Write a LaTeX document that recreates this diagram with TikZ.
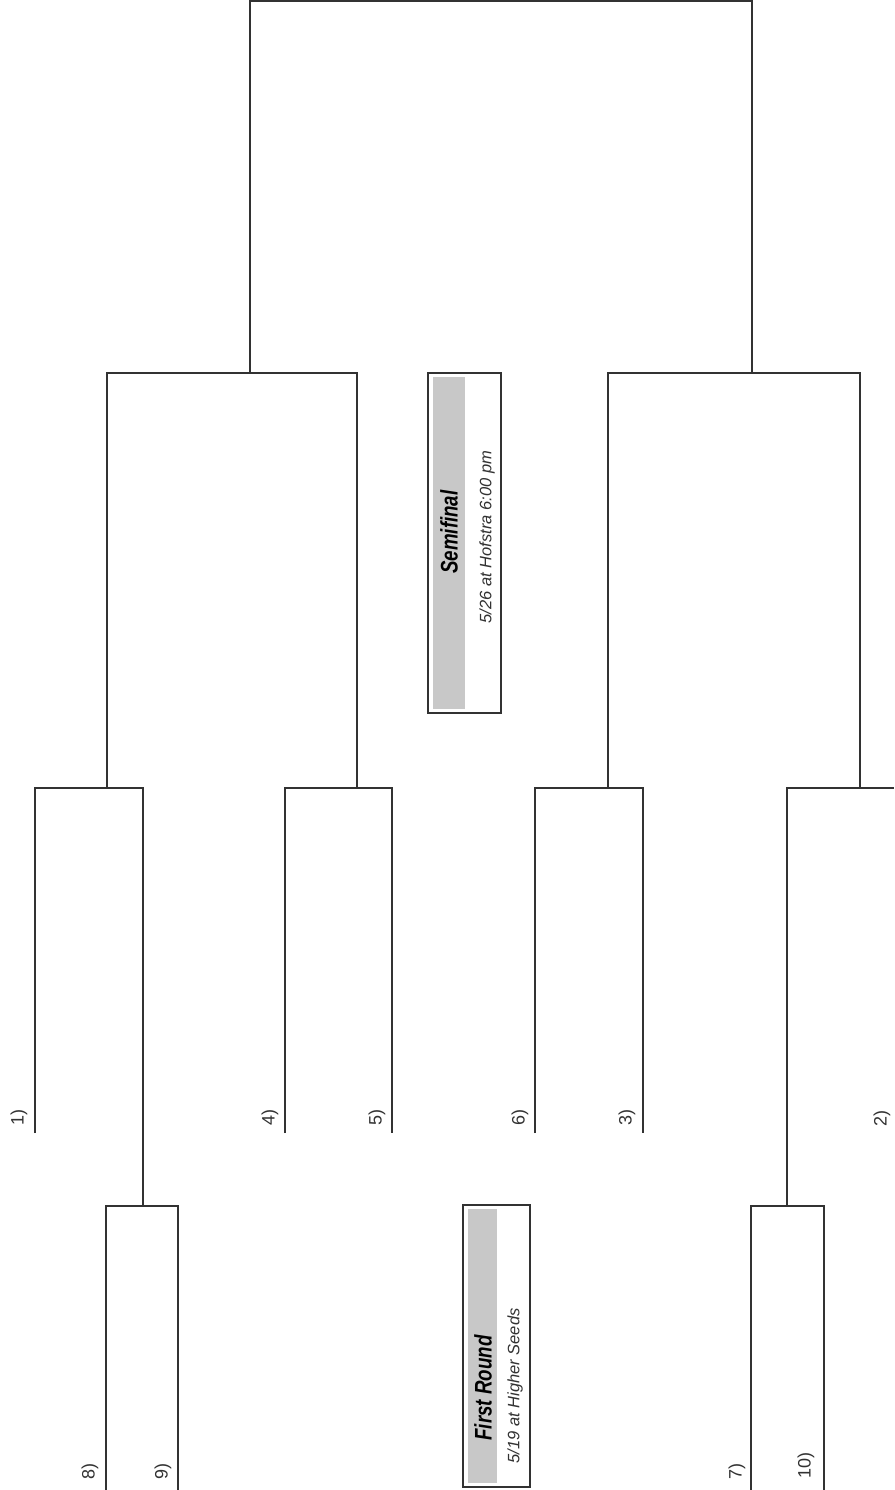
\documentclass[tikz,border=0pt]{standalone}
\usepackage{fontspec}
\setmainfont{Liberation Sans}
\definecolor{ln}{RGB}{50,50,50}
\definecolor{band}{RGB}{200,200,200}
\newcommand{\cond}[1]{\scalebox{0.78}[1]{#1}}
\begin{document}
\begin{tikzpicture}[x=1pt,y=-1pt,
  wire/.style={draw=ln,line width=2.4pt,line join=miter},
  seed/.style={rotate=90,font=\fontsize{18}{18}\selectfont,text=ln,inner sep=0pt},
  ttl/.style={rotate=90,font=\fontsize{24}{24}\selectfont\bfseries\itshape,inner sep=0pt,text=black},
  sub/.style={rotate=90,font=\fontsize{16.5}{16.5}\selectfont\itshape,inner sep=0pt,text=ln},
  boxframe/.style={draw=ln,line width=2.4pt,fill=white},
  bandfill/.style={fill=band}]
\useasboundingbox (0,0) rectangle (894,1490);
\fill[white] (0,0) rectangle (894,1490);

% final
\coordinate (FL) at (250,1);
\coordinate (FR) at (752,1);
\coordinate (SLj) at (250,373);
\coordinate (SRj) at (752,373);
% left semifinal
\coordinate (SLa) at (107,373);
\coordinate (SLb) at (357,373);
\coordinate (QAj) at (107,788);
\coordinate (QBj) at (357,788);
% right semifinal
\coordinate (SRa) at (608,373);
\coordinate (SRb) at (860,373);
\coordinate (QCj) at (608,788);
\coordinate (QDj) at (860,788);
% quarter A: 1) vs 8/9
\coordinate (A1t) at (35,788);
\coordinate (A1b) at (35,1133);
\coordinate (A2t) at (143,788);
\coordinate (A2b) at (143,1206);
\coordinate (P8t) at (106,1206);
\coordinate (P8b) at (106,1490);
\coordinate (P9t) at (178,1206);
\coordinate (P9b) at (178,1490);
% quarter B: 4) vs 5)
\coordinate (B4t) at (285,788);
\coordinate (B4b) at (285,1133);
\coordinate (B5t) at (392,788);
\coordinate (B5b) at (392,1133);
% quarter C: 6) vs 3)
\coordinate (C6t) at (535,788);
\coordinate (C6b) at (535,1133);
\coordinate (C3t) at (643,788);
\coordinate (C3b) at (643,1133);
% quarter D: 7/10 vs 2)
\coordinate (D1t) at (787,788);
\coordinate (D1b) at (787,1206);
\coordinate (D2t) at (894,788);
\coordinate (P7t) at (751,1206);
\coordinate (P7b) at (751,1490);
\coordinate (P10t) at (824,1206);
\coordinate (P10b) at (824,1490);

\draw[wire] (SLj) -- (FL) -- (FR) -- (SRj);
\draw[wire] (QAj) -- (SLa) -- (SLb) -- (QBj);
\draw[wire] (QCj) -- (SRa) -- (SRb) -- (QDj);
\draw[wire] (A1b) -- (A1t) -- (A2t) -- (A2b);
\draw[wire] (P8b) -- (P8t) -- (P9t) -- (P9b);
\draw[wire] (B4b) -- (B4t) -- (B5t) -- (B5b);
\draw[wire] (C6b) -- (C6t) -- (C3t) -- (C3b);
\draw[wire] (D1b) -- (D1t) -- (D2t);
\draw[wire] (P7b) -- (P7t) -- (P10t) -- (P10b);

% seed labels
\node[seed] (s1) at (19,1117) {1)};
\node[seed] (s4) at (270,1117) {4)};
\node[seed] (s5) at (377,1117) {5)};
\node[seed] (s6) at (520,1117) {6)};
\node[seed] (s3) at (627,1117) {3)};
\node[seed] (s2) at (882,1118) {2)};
\node[seed] (s8) at (90,1471) {8)};
\node[seed] (s9) at (163,1471) {9)};
\node[seed] (s7) at (737,1471) {7)};
\node[seed] (s10) at (806,1465) {10)};

% semifinal box
\draw[boxframe] (428,373) rectangle (501,713);
\fill[bandfill] (433,377) rectangle (465,709);
\node[ttl] (semt) at (449,532) {\cond{Semifinal}};
\node[sub] (sems) at (487,537) {5/26 at Hofstra 6:00 pm};

% first round box
\draw[boxframe] (463,1205) rectangle (530,1487);
\fill[bandfill] (468,1209) rectangle (497,1483);
\node[ttl] (frt) at (483,1388) {\cond{First Round}};
\node[sub] (frs) at (515,1386) {5/19 at Higher Seeds};
\end{tikzpicture}
\end{document}
